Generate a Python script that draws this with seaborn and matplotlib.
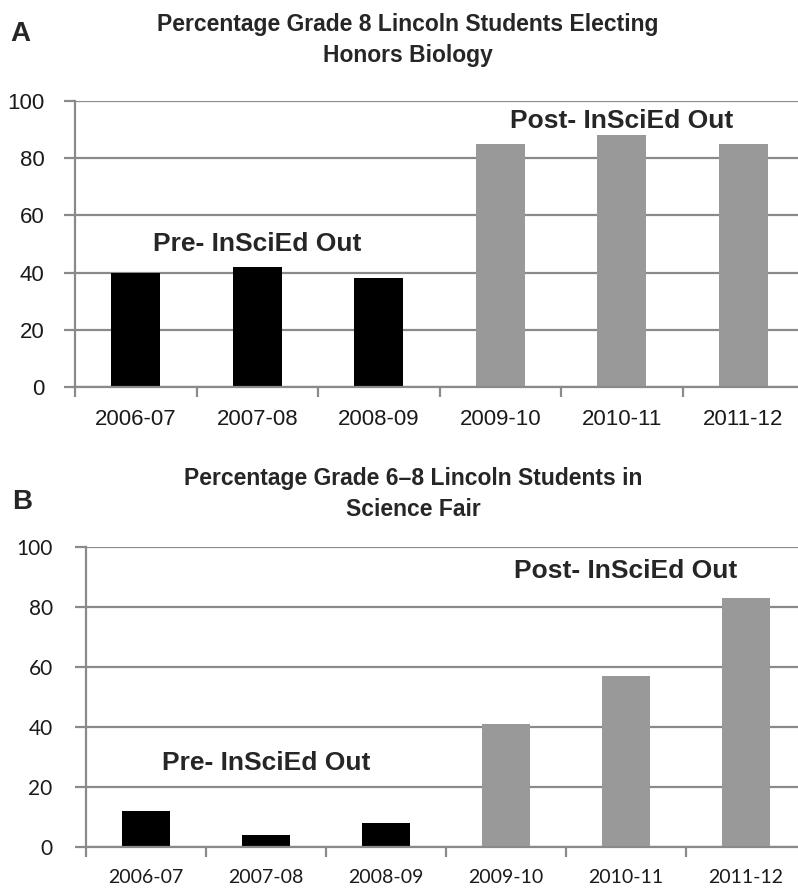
import pandas as pd
import matplotlib.pyplot as plt
import seaborn as sns

# ==== COLORS ====
pre_color = "#000000"
post_color = "#999999"
grid_color = "#8a8a8a"

# ==== DATA ====
years = ["2006-07", "2007-08", "2008-09", "2009-10", "2010-11", "2011-12"]
phase = ["Pre", "Pre", "Pre", "Post", "Post", "Post"]
honors_bio = [40, 42, 38, 85, 88, 85]
science_fair = [12, 4, 8, 41, 57, 83]
y_ticks = [0, 20, 40, 60, 80, 100]

title_a = "Percentage Grade 8 Lincoln Students Electing\nHonors Biology"
title_b = "Percentage Grade 6\u20138 Lincoln Students in\nScience Fair"

df_a = pd.DataFrame({"Year": years, "Phase": phase, "Value": honors_bio})
df_b = pd.DataFrame({"Year": years, "Phase": phase, "Value": science_fair})

sns.set_style("white")
plt.rcParams["font.family"] = ["Liberation Sans", "DejaVu Sans"]

fig = plt.figure(figsize=(7.98, 8.9), dpi=100)
ax_a = fig.add_axes([75 / 798, 1 - 387 / 890, 729 / 798, 286 / 890])
ax_b = fig.add_axes([86 / 798, 1 - 847 / 890, 720 / 798, 300 / 890])


def draw_panel(ax, df, tick_font, xsize, ysize, ypad):
    sns.barplot(
        data=df, x="Year", y="Value", hue="Phase",
        palette={"Pre": pre_color, "Post": post_color},
        dodge=False, width=0.4, legend=False, saturation=1,
        linewidth=0, ax=ax,
    )
    ax.set_xlim(-0.5, 5.5)
    ax.set_ylim(0, 100)
    ax.set_yticks(y_ticks)
    ax.set_xlabel("")
    ax.set_ylabel("")
    ax.yaxis.grid(True, color=grid_color, linewidth=1.6)
    ax.set_axisbelow(True)
    for side in ["top", "right"]:
        ax.spines[side].set_visible(False)
    for side in ["left", "bottom"]:
        ax.spines[side].set_color(grid_color)
        ax.spines[side].set_linewidth(1.6)
    # Excel style: tick marks between categories, labels under bars
    ax.set_xticks([i - 0.5 for i in range(len(years) + 1)], minor=True)
    ax.tick_params(axis="x", which="major", length=0, pad=16,
                   labelsize=xsize)
    ax.tick_params(axis="x", which="minor", length=7, width=1.6,
                   color=grid_color, direction="out", bottom=True)
    ax.tick_params(axis="y", length=8, width=1.6, color=grid_color,
                   direction="out", left=True, pad=ypad, labelsize=ysize)
    for lab in ax.get_xticklabels() + ax.get_yticklabels():
        lab.set_family(tick_font)
        lab.set_color("#1a1a1a")


draw_panel(ax_a, df_a, ["Liberation Sans"], 16, 16, 14)
draw_panel(ax_b, df_b, ["Lato", "Liberation Sans"], 14, 15, 16)

# Phase annotations
ax_a.text(1.0, 50, "Pre- InSciEd Out", ha="center", va="center",
          fontsize=19, fontweight="bold")
ax_a.text(4.0, 93, "Post- InSciEd Out", ha="center", va="center",
          fontsize=19, fontweight="bold")
ax_b.text(1.0, 28, "Pre- InSciEd Out", ha="center", va="center",
          fontsize=19, fontweight="bold")
ax_b.text(4.0, 92, "Post- InSciEd Out", ha="center", va="center",
          fontsize=19, fontweight="bold")

# Titles and panel letters
fig.text(408 / 798, 1 - 40 / 890, title_a, ha="center", va="center",
         fontsize=16.5, fontweight="bold", linespacing=1.4)
fig.text(413 / 798, 1 - 494 / 890, title_b, ha="center", va="center",
         fontsize=16.5, fontweight="bold", linespacing=1.4)
fig.text(10 / 798, 1 - 34 / 890, "A", ha="left", va="center",
         fontsize=20, fontweight="bold")
fig.text(12 / 798, 1 - 502 / 890, "B", ha="left", va="center",
         fontsize=20, fontweight="bold")

fig.savefig("out.png", dpi=100)
